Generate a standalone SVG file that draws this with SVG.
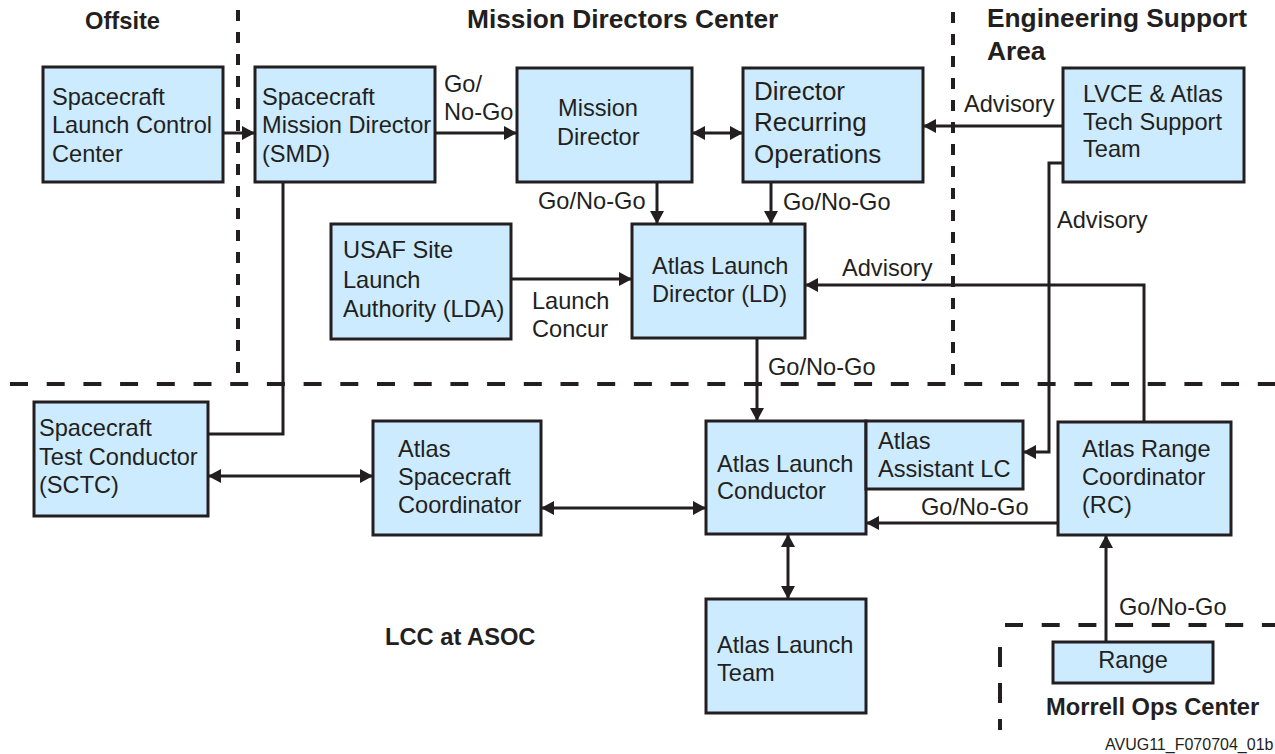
<svg xmlns="http://www.w3.org/2000/svg" width="1275" height="754" viewBox="0 0 1275 754">
<style>
.box{fill:#CCEBFF;stroke:#231F20;stroke-width:3}
.t{font-family:"Liberation Sans",Arial,sans-serif;font-size:23.6px;fill:#231F20}
.b{font-family:"Liberation Sans",Arial,sans-serif;font-weight:bold;font-size:23.7px;fill:#231F20}
.bl{font-family:"Liberation Sans",Arial,sans-serif;font-weight:bold;font-size:26.3px;fill:#231F20}
.c{fill:none;stroke:#231F20;stroke-width:3}
.dh{fill:none;stroke:#231F20;stroke-width:4;stroke-dasharray:18 18.7}
.dv{fill:none;stroke:#231F20;stroke-width:4;stroke-dasharray:11 11}
</style>
<defs>
<marker id="ah" markerUnits="userSpaceOnUse" markerWidth="14" markerHeight="15" refX="13" refY="7" orient="auto-start-reverse">
<path d="M0,0 L13,7 L0,14 z" fill="#231F20"/>
</marker>
</defs>
<rect width="1275" height="754" fill="#ffffff"/>

<g id="regions">
<line class="dv" x1="238" y1="10" x2="238" y2="381"/>
<line class="dv" x1="953" y1="12" x2="953" y2="381"/>
<line class="dh" x1="10" y1="384" x2="1275" y2="384"/>
<line class="dh" x1="1005" y1="625" x2="1275" y2="625"/>
<line class="dh" x1="1000" y1="647" x2="1000" y2="730" style="stroke-dasharray:20 16"/>
<text class="b" x="85" y="29">Offsite</text>
<text class="bl" x="467" y="28">Mission Directors Center</text>
<text class="bl" x="987" y="27">Engineering Support</text>
<text class="bl" x="987" y="60">Area</text>
<text class="b" x="385" y="645">LCC at ASOC</text>
<text class="b" x="1046" y="715">Morrell Ops Center</text>
<text class="t" x="1105" y="750" style="font-size:16px">AVUG11_F070704_01b</text>
</g>

<g id="connectors">
<path class="c" d="M223,133 H255" marker-end="url(#ah)"/>
<path class="c" d="M435,133 H517" marker-end="url(#ah)"/>
<path class="c" d="M692,133 H743" marker-start="url(#ah)" marker-end="url(#ah)"/>
<path class="c" d="M1063,126 H923" marker-end="url(#ah)"/>
<path class="c" d="M657,182 V224" marker-end="url(#ah)"/>
<path class="c" d="M771,182 V224" marker-end="url(#ah)"/>
<path class="c" d="M511,279 H632" marker-end="url(#ah)"/>
<path class="c" d="M1144,422 V285 H805" marker-end="url(#ah)"/>
<path class="c" d="M1063,163 H1049 V452 H1023" marker-end="url(#ah)"/>
<path class="c" d="M757,338 V421" marker-end="url(#ah)"/>
<path class="c" d="M283,182 V434 H208"/>
<path class="c" d="M208,476 H373" marker-start="url(#ah)" marker-end="url(#ah)"/>
<path class="c" d="M541,508 H706" marker-start="url(#ah)" marker-end="url(#ah)"/>
<path class="c" d="M1058,523 H866" marker-end="url(#ah)"/>
<path class="c" d="M788,534 V599" marker-start="url(#ah)" marker-end="url(#ah)"/>
<path class="c" d="M1106,642 V535" marker-end="url(#ah)"/>
<text class="t" x="444" y="92">Go/</text>
<text class="t" x="444" y="120">No-Go</text>
<text class="t" x="538" y="209">Go/No-Go</text>
<text class="t" x="783" y="210">Go/No-Go</text>
<text class="t" x="964" y="112">Advisory</text>
<text class="t" x="1057" y="228">Advisory</text>
<text class="t" x="842" y="276">Advisory</text>
<text class="t" x="532" y="309">Launch</text>
<text class="t" x="532" y="337">Concur</text>
<text class="t" x="768" y="375">Go/No-Go</text>
<text class="t" x="921" y="515">Go/No-Go</text>
<text class="t" x="1119" y="615">Go/No-Go</text>
</g>

<g id="slcc">
<rect class="box" x="43" y="67" width="180" height="115"/>
<text class="t" x="52" y="105">Spacecraft</text>
<text class="t" x="52" y="133">Launch Control</text>
<text class="t" x="52" y="162">Center</text>
</g>

<g id="smd">
<rect class="box" x="255" y="67" width="180" height="115"/>
<text class="t" x="262" y="105">Spacecraft</text>
<text class="t" x="262" y="133">Mission Director</text>
<text class="t" x="262" y="162">(SMD)</text>
</g>

<g id="md">
<rect class="box" x="517" y="68" width="175" height="114"/>
<text class="t" x="558" y="116">Mission</text>
<text class="t" x="557" y="145">Director</text>
</g>

<g id="dro">
<rect class="box" x="743" y="68" width="180" height="114"/>
<text class="t" x="754" y="100" style="font-size:26px">Director</text>
<text class="t" x="754" y="131" style="font-size:26px">Recurring</text>
<text class="t" x="754" y="163" style="font-size:26px">Operations</text>
</g>

<g id="lvce">
<rect class="box" x="1063" y="68" width="181" height="114"/>
<text class="t" x="1083" y="102">LVCE &amp; Atlas</text>
<text class="t" x="1083" y="130">Tech Support</text>
<text class="t" x="1083" y="157">Team</text>
</g>

<g id="usaf">
<rect class="box" x="331" y="224" width="180" height="115"/>
<text class="t" x="343" y="258">USAF Site</text>
<text class="t" x="343" y="288">Launch</text>
<text class="t" x="343" y="317">Authority (LDA)</text>
</g>

<g id="ld">
<rect class="box" x="632" y="224" width="173" height="114"/>
<text class="t" x="652" y="274">Atlas Launch</text>
<text class="t" x="652" y="302">Director (LD)</text>
</g>

<g id="sctc">
<rect class="box" x="34" y="402" width="174" height="114"/>
<text class="t" x="39" y="436">Spacecraft</text>
<text class="t" x="39" y="465">Test Conductor</text>
<text class="t" x="39" y="493">(SCTC)</text>
</g>

<g id="asc">
<rect class="box" x="373" y="421" width="168" height="114"/>
<text class="t" x="398" y="457">Atlas</text>
<text class="t" x="398" y="485">Spacecraft</text>
<text class="t" x="398" y="513">Coordinator</text>
</g>

<g id="lc">
<rect class="box" x="706" y="421" width="160" height="113"/>
<text class="t" x="717" y="472">Atlas Launch</text>
<text class="t" x="717" y="499">Conductor</text>
</g>

<g id="alc">
<rect class="box" x="866" y="421" width="157" height="68"/>
<text class="t" x="878" y="449">Atlas</text>
<text class="t" x="878" y="477">Assistant LC</text>
</g>

<g id="rc">
<rect class="box" x="1058" y="422" width="173" height="113"/>
<text class="t" x="1082" y="457">Atlas Range</text>
<text class="t" x="1082" y="485">Coordinator</text>
<text class="t" x="1082" y="513">(RC)</text>
</g>

<g id="team">
<rect class="box" x="706" y="599" width="160" height="114"/>
<text class="t" x="717" y="653">Atlas Launch</text>
<text class="t" x="717" y="681">Team</text>
</g>

<g id="range">
<rect class="box" x="1053" y="642" width="160" height="41"/>
<text class="t" x="1133" y="668" text-anchor="middle">Range</text>
</g>
</svg>
